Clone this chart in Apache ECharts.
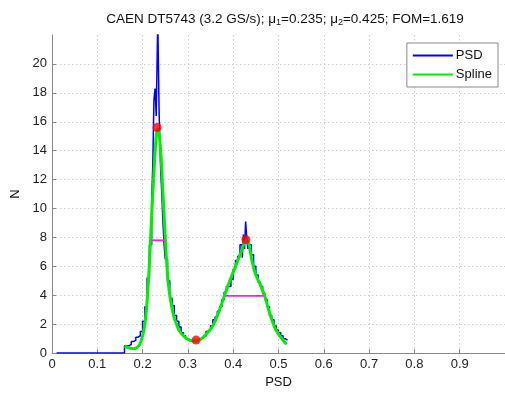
<!DOCTYPE html>
<html>
<head>
<meta charset="utf-8">
<script src="https://cdn.jsdelivr.net/npm/echarts@6/dist/echarts.min.js"></script>
<style>
  html, body { margin: 0; padding: 0; background: #fff; }
  #chart { width: 505px; height: 394px; }
</style>
</head>
<body>
<div id="chart"></div>
<script>
// histogram of PSD values (bin start -> count)
const psdX = [0.01, 0.16, 0.165, 0.17, 0.175, 0.18, 0.185, 0.19, 0.195, 0.2, 0.205, 0.21, 0.215,
  0.22, 0.2225, 0.225, 0.2275, 0.23, 0.2335, 0.2365, 0.24, 0.2425, 0.245, 0.2475, 0.25, 0.255,
  0.26, 0.265, 0.27, 0.275, 0.28, 0.285, 0.29, 0.295, 0.3, 0.305, 0.31, 0.315, 0.32, 0.325,
  0.33, 0.335, 0.34, 0.345, 0.35, 0.355, 0.36, 0.365, 0.37, 0.375, 0.38, 0.385, 0.39, 0.395,
  0.4, 0.405, 0.41, 0.415, 0.42, 0.4225, 0.425, 0.4275, 0.43, 0.4325, 0.435, 0.44, 0.445,
  0.45, 0.455, 0.46, 0.465, 0.47, 0.475, 0.48, 0.485, 0.49, 0.495, 0.5, 0.505, 0.51, 0.515, 0.52];
const psdY = [0, 0.5, 0.5, 0.6, 0.8, 0.9, 1.1, 1.2, 1.5, 2.2, 3.2, 5.2, 7.5,
  10.5, 13, 17.5, 18.3, 16.4, 23, 16.6, 12.5, 11, 9, 7.5, 6.5, 5.0,
  3.8, 3.3, 2.6, 2.2, 1.8, 1.4, 1.2, 1.0, 0.9, 0.8, 0.85, 0.8, 0.9, 1.0,
  1.1, 1.2, 1.5, 1.6, 1.9, 2.3, 2.5, 2.9, 3.2, 3.7, 4.2, 4.6, 4.6, 5.1,
  5.8, 6.4, 6.7, 7.5, 6.6, 8.2, 7.2, 9.1, 7.9, 7.2, 7.5, 6.8, 6.0,
  5.4, 4.9, 4.6, 4.1, 3.7, 3.2, 2.6, 2.3, 1.9, 1.6, 1.4, 1.2, 1.0, 0.9, 0.9];

// smoothing spline fit
const splineX = [0.16, 0.17, 0.18, 0.19, 0.195, 0.2, 0.205, 0.21, 0.215, 0.22, 0.225, 0.23, 0.233,
  0.236, 0.24, 0.245, 0.25, 0.255, 0.26, 0.265, 0.27, 0.275, 0.28, 0.29, 0.3, 0.31, 0.318,
  0.33, 0.34, 0.35, 0.357, 0.37, 0.381, 0.39, 0.4, 0.41, 0.42, 0.428, 0.435, 0.44, 0.445,
  0.45, 0.46, 0.47, 0.48, 0.49, 0.5, 0.51, 0.5175];
const splineY = [0.5, 0.35, 0.3, 0.45, 0.7, 1.2, 2.0, 3.6, 6.2, 9.5, 12.5, 15.0, 15.5,
  15.2, 14.0, 11.0, 8.0, 5.4, 4.0, 3.1, 2.4, 2.0, 1.6, 1.2, 0.95, 0.85, 0.85,
  1.0, 1.3, 1.65, 2.0, 3.0, 4.0, 4.8, 5.6, 6.4, 7.2, 7.85, 7.5, 6.6, 5.9,
  5.4, 4.7, 3.9, 2.8, 1.9, 1.3, 0.9, 0.6];

// peaks and valley
const markX = [0.232, 0.318, 0.428];
const markY = [15.6, 0.9, 7.85];

// FWHM segments
const fwhm1 = [[0.219, 7.8], [0.250, 7.8]];
const fwhm2 = [[0.382, 3.96], [0.469, 3.96]];

const zip = (xs, ys) => xs.map((x, i) => [x, ys[i]]);

const chart = echarts.init(document.getElementById('chart'));
const font = 'Liberation Sans, Arial, sans-serif';

chart.setOption({
  animation: false,
  title: {
    text: 'CAEN DT5743 (3.2 GS/s); μ{sub|1}=0.235; μ{sub|2}=0.425; FOM=1.619',
    left: 280,
    top: 6,
    textAlign: 'center',
    textStyle: {
      fontFamily: font,
      fontSize: 13.5,
      fontWeight: 'normal',
      color: '#111',
      rich: {
        sub: { fontFamily: font, fontSize: 9, color: '#111', verticalAlign: 'bottom', padding: [7, 0, 0, 0] },
      },
    },
  },
  legend: {
    data: ['PSD', 'Spline'],
    orient: 'vertical',
    right: 7,
    top: 43,
    icon: 'rect',
    itemWidth: 40,
    itemHeight: 2,
    itemGap: 6,
    padding: [6, 6, 6, 6],
    backgroundColor: '#fff',
    borderColor: '#888',
    borderWidth: 1,
    textStyle: { fontFamily: font, fontSize: 13, color: '#111', padding: [0, 0, 0, -2] },
  },
  grid: { left: 52, right: -4, top: 35, bottom: 37 },
  xAxis: {
    type: 'value',
    min: 0,
    max: 1,
    interval: 0.1,
    name: 'PSD',
    nameLocation: 'middle',
    nameGap: 19,
    nameTextStyle: { fontFamily: font, fontSize: 13, color: '#111' },
    axisLine: { lineStyle: { color: '#888' } },
    axisTick: { inside: true, length: 4, lineStyle: { color: '#888' } },
    axisLabel: { fontFamily: font, fontSize: 13, color: '#222', margin: 5, showMaxLabel: false },
    splitLine: { showMaxLine: false, lineStyle: { color: '#cccccc', type: [1.5, 2.5] } },
  },
  yAxis: {
    type: 'value',
    min: 0,
    max: 22,
    interval: 2,
    name: 'N',
    nameLocation: 'middle',
    nameGap: 21,
    nameTextStyle: { fontFamily: font, fontSize: 13, color: '#111' },
    axisLine: { show: true, lineStyle: { color: '#888' } },
    axisTick: { show: true, inside: true, length: 4, lineStyle: { color: '#888' } },
    axisLabel: { fontFamily: font, fontSize: 13, color: '#222', margin: 5, showMaxLabel: false },
    splitLine: { showMaxLine: false, lineStyle: { color: '#cccccc', type: [1.5, 2.5] } },
  },
  series: [
    {
      name: 'PSD',
      type: 'line',
      step: 'end',
      showSymbol: false,
      color: '#0000ff',
      lineStyle: { width: 1.5, color: '#0000ff' },
      data: zip(psdX, psdY),
      z: 2,
    },
    {
      name: 'Spline',
      type: 'line',
      smooth: 0.3,
      showSymbol: false,
      color: '#00ee00',
      lineStyle: { width: 3, color: '#00ee00' },
      data: zip(splineX, splineY),
      z: 3,
    },
    {
      name: 'fwhm1',
      type: 'line',
      showSymbol: false,
      lineStyle: { width: 1.8, color: '#ff22ee' },
      data: fwhm1,
      z: 4,
    },
    {
      name: 'fwhm2',
      type: 'line',
      showSymbol: false,
      lineStyle: { width: 1.8, color: '#ff22ee' },
      data: fwhm2,
      z: 4,
    },
    {
      name: 'marks',
      type: 'scatter',
      symbolSize: 9,
      itemStyle: { color: '#ff0000' },
      data: zip(markX, markY),
      z: 5,
    },
  ],
});
</script>
</body>
</html>
